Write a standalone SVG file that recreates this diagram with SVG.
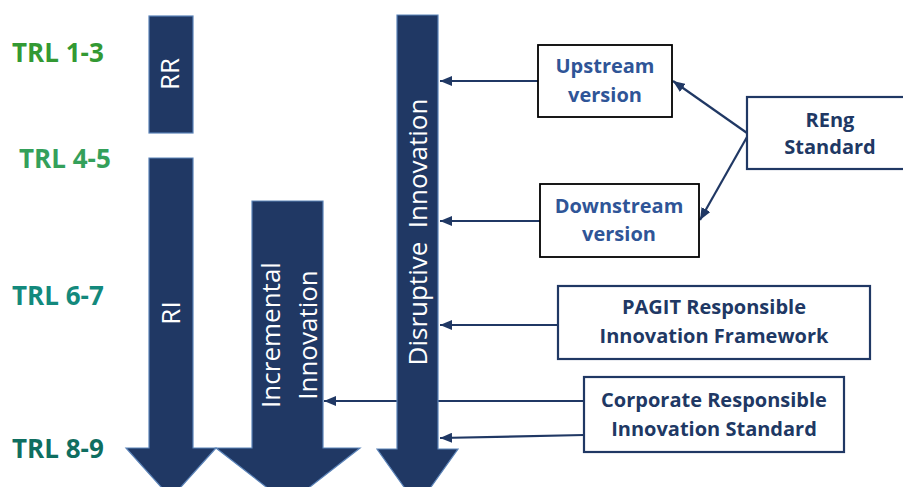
<svg xmlns="http://www.w3.org/2000/svg" width="903" height="487" viewBox="0 0 903 487">
<defs>
<marker id="ah" viewBox="0 0 12 10" refX="12" refY="5" markerWidth="12" markerHeight="10" markerUnits="userSpaceOnUse" orient="auto">
<path d="M0,0 L12,5 L0,10 Z" fill="#203864"/>
</marker>
</defs>
<style>
.bar{fill:#203864;stroke:#5b83b8;stroke-width:1.2}
.bt{fill:#ffffff;font-family:"Open Sans","Noto Sans",sans-serif;font-size:26px;text-anchor:middle}
.trl{font-family:"Open Sans","Noto Sans",sans-serif;font-size:26px;font-weight:bold}
.box{fill:#ffffff;stroke:#203864;stroke-width:2.2}
.boxk{fill:#ffffff;stroke:#000000;stroke-width:1.8}
.lt{font-family:"Open Sans","Noto Sans",sans-serif;font-size:20px;font-weight:bold;text-anchor:middle}
.blue{fill:#2f5597}
.navy{fill:#203864}
.con{stroke:#203864;stroke-width:2.2;fill:none;marker-end:url(#ah)}
</style>
<rect width="903" height="487" fill="#ffffff"/>

<g id="trl-labels">
<text class="trl" x="12" y="62" fill="#339933">TRL 1-3</text>
<text class="trl" x="19" y="168" fill="#34a05a">TRL 4-5</text>
<text class="trl" x="12" y="305" fill="#13897c">TRL 6-7</text>
<text class="trl" x="12" y="458" fill="#0f6e60">TRL 8-9</text>
</g>

<g id="connectors">
<line class="con" x1="538" y1="81" x2="440" y2="81"/>
<line class="con" x1="540" y1="221" x2="440" y2="221"/>
<line class="con" x1="747" y1="133" x2="673" y2="81"/>
<line class="con" x1="747" y1="137" x2="700" y2="220"/>
<line class="con" x1="558" y1="325" x2="440" y2="325"/>
<line class="con" x1="584" y1="401" x2="324" y2="401"/>
<line class="con" x1="584" y1="435" x2="440" y2="438"/>
</g>

<g id="rr">
<rect class="bar" x="149" y="16" width="44" height="117"/>
<text class="bt" transform="translate(179,74) rotate(-90)">RR</text>
</g>

<g id="ri">
<path class="bar" d="M149,158 H193 V448 H216 L171,498 L126,448 H149 Z"/>
<text class="bt" transform="translate(180,313) rotate(-90)">RI</text>
</g>

<g id="incremental">
<path class="bar" d="M252,201 H323 V448 H360 L288,504 L216,448 H252 Z"/>
<text class="bt" transform="translate(280,335) rotate(-90)">Incremental</text>
<text class="bt" transform="translate(317,335) rotate(-90)">Innovation</text>
</g>

<g id="disruptive">
<path class="bar" d="M397,15 H438 V449 H458 L417.5,506 L377,449 H397 Z"/>
<text class="bt" style="white-space:pre" transform="translate(427,232) rotate(-90)">Disruptive  Innovation</text>
</g>

<g id="upstream">
<rect class="boxk" x="538" y="45" width="134" height="72"/>
<text class="lt blue" x="605" y="73">Upstream</text>
<text class="lt blue" x="605" y="102">version</text>
</g>

<g id="downstream">
<rect class="boxk" x="540" y="184" width="159" height="73"/>
<text class="lt blue" x="619" y="213">Downstream</text>
<text class="lt blue" x="619" y="241">version</text>
</g>

<g id="reng">
<rect class="box" x="747" y="97" width="166" height="72"/>
<text class="lt navy" x="830" y="127">REng</text>
<text class="lt navy" x="830" y="154">Standard</text>
</g>

<g id="pagit">
<rect class="box" x="558" y="286" width="312" height="73"/>
<text class="lt navy" x="714" y="314">PAGIT Responsible</text>
<text class="lt navy" x="714" y="343">Innovation Framework</text>
</g>

<g id="corporate">
<rect class="box" x="584" y="377" width="260" height="75"/>
<text class="lt navy" x="714" y="407">Corporate Responsible</text>
<text class="lt navy" x="714" y="436">Innovation Standard</text>
</g>
</svg>
